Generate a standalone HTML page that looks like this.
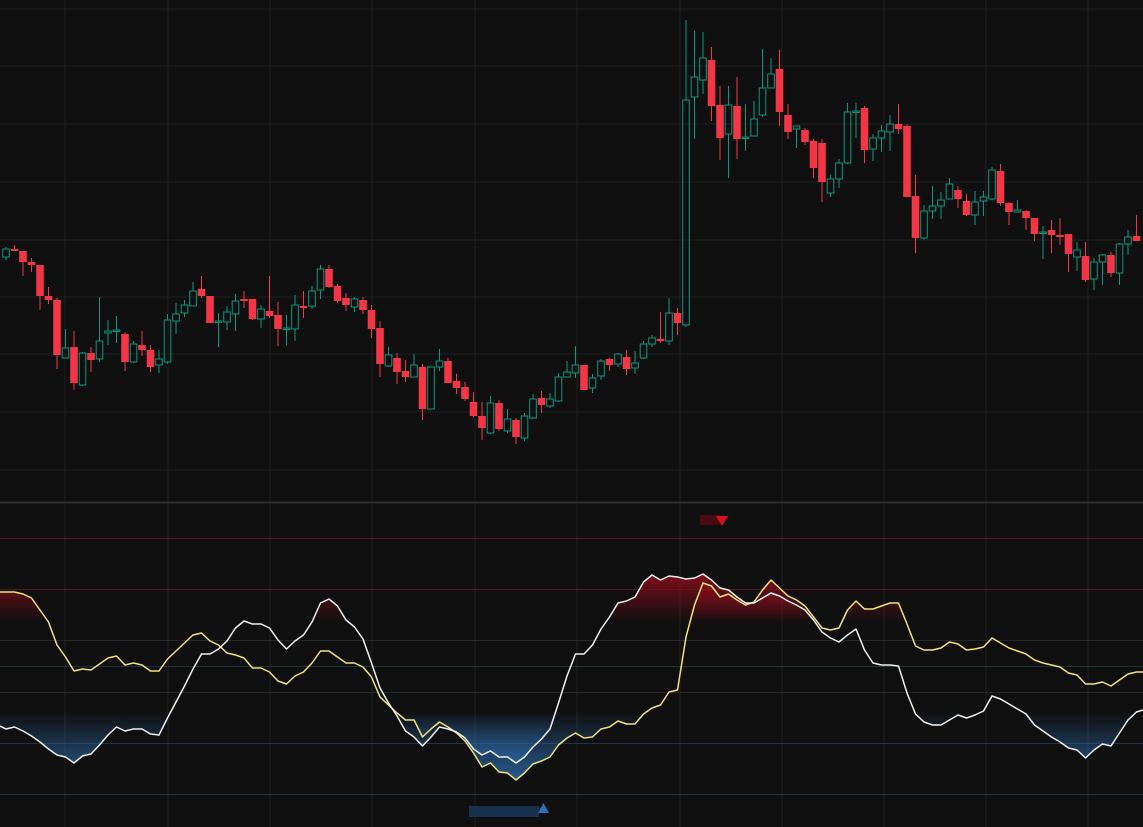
<!DOCTYPE html>
<html><head><meta charset="utf-8"><style>
html,body{margin:0;padding:0;background:#0f0f0f;}
svg{display:block;font-family:"Liberation Sans",sans-serif;}
</style></head><body>
<svg id="chart" width="1143" height="827" viewBox="0 0 1143 827" xmlns="http://www.w3.org/2000/svg">
<defs>
<linearGradient id="redG" gradientUnits="userSpaceOnUse" x1="0" y1="572" x2="0" y2="622"><stop offset="0" stop-color="#8a0c1c" stop-opacity="0.95"/><stop offset="1" stop-color="#8a0c1c" stop-opacity="0"/></linearGradient>
<linearGradient id="blueG" gradientUnits="userSpaceOnUse" x1="0" y1="712" x2="0" y2="782"><stop offset="0" stop-color="#2b66a3" stop-opacity="0"/><stop offset="1" stop-color="#2b66a3" stop-opacity="0.9"/></linearGradient>
</defs>
<rect x="0" y="0" width="1143" height="827" fill="#0f0f0f"/>
<g id="grid"></g>
<g id="candles"></g>
<g id="osc"></g>
<g>
<rect x="700" y="515" width="20" height="10" fill="#4a0a12"/>
<polygon points="716,516 728,516 722,526" fill="#d8101e"/>
</g>
<g>
<rect x="469" y="806" width="70" height="11" fill="#17304d"/>
<polygon points="538,813 549,813 543.5,803" fill="#2d6fb8"/>
</g>
</svg>
<script>
// price values (price units: higher = up)
const opens  = [243,251,249,238,235,204,200,142,153,115,
147,141,167,169,166,138,155,150,135,138,
179,187,194,211,204,179,178,186,201,201,
181,189,185,172,171,194,194,210,231,214,
202,193,200,190,172,134,142,129,123,133,
91,133,139,119,113,98,84,67,97,69,
80,62,82,102,94,99,123,127,135,112,
124,141,136,143,132,142,156,161,159,187,
175,403,420,440,395,366,394,363,364,385,
412,431,385,371,370,359,357,307,321,337,
389,392,351,362,368,376,374,304,262,289,
294,301,310,299,285,299,301,329,297,288,
289,282,268,270,265,266,243,244,221,238,
245,227,256,264];
const closes = [251,249,238,235,204,200,145,152,117,147,
140,159,169,170,138,156,150,133,141,180,
186,195,209,204,177,179,188,199,199,181,
191,184,171,172,195,192,209,231,213,199,
195,201,190,171,136,145,128,123,135,91,
133,139,117,112,101,84,72,97,71,81,
63,84,101,95,101,123,128,135,110,122,
139,135,146,131,137,156,162,159,187,177,
400,423,442,394,362,395,361,363,381,412,
426,388,368,374,358,332,318,321,337,388,
389,350,362,369,376,371,303,262,289,294,
300,316,301,285,298,303,330,297,288,290,
282,266,268,265,263,246,250,220,238,245,
227,256,263,259];
const highs  = [253,255,249,242,235,213,202,171,169,148,
153,203,180,184,168,159,169,155,150,186,
197,200,218,224,204,187,194,206,209,201,
195,224,198,185,205,209,214,235,235,216,
207,203,203,195,179,153,147,140,146,136,
133,151,142,126,118,108,98,104,100,91,
82,87,106,109,107,127,139,154,135,126,
141,142,147,150,149,159,165,188,202,192,
480,469,468,453,414,414,423,396,399,451,
442,450,396,374,372,361,361,325,341,397,
397,394,366,375,385,396,376,325,295,314,
308,322,314,306,309,309,333,336,298,300,
290,282,274,280,282,266,258,258,242,246,
248,257,270,285];
const lows   = [240,249,224,228,190,196,131,142,110,114,
128,138,155,157,129,137,144,128,127,136,
166,183,194,202,177,153,170,169,192,180,
172,182,154,155,159,182,191,201,212,197,
189,188,186,162,123,133,116,118,123,80,
91,129,117,106,99,83,60,66,69,67,
56,59,81,87,92,98,123,122,110,107,
120,129,133,125,126,141,153,157,155,165,
173,361,406,379,340,322,341,349,364,383,
412,374,361,352,355,322,298,303,312,336,
362,337,339,348,349,366,303,247,260,281,
281,301,292,284,275,284,300,294,275,288,
270,259,241,247,255,228,229,218,210,215,
223,215,245,259];
// oscillator values (0 = bottom level line, 256 = top level line)
const fastLine = [65,67,63,58,52,45,39,37,31,38,40,49,59,67,63,65,65,60,59,76,92,108,125,140,140,145,153,166,173,170,170,166,154,145,153,159,172,191,195,188,174,167,155,131,106,91,78,63,57,48,57,67,65,62,56,45,39,43,37,37,31,37,47,55,65,91,118,140,140,149,165,177,191,193,197,212,219,214,218,217,215,216,220,214,206,204,197,191,191,196,201,198,193,189,184,174,162,156,152,159,165,144,131,129,129,128,101,80,72,69,69,74,79,76,79,83,98,95,90,85,80,69,63,57,52,46,44,36,44,50,48,61,74,82];
const slowLine = [202,202,200,196,184,172,149,137,123,125,124,130,136,138,129,131,129,123,123,135,143,151,159,161,153,149,141,139,136,126,126,122,113,110,118,122,131,143,143,137,131,131,127,117,97,89,81,74,74,57,65,72,67,61,53,41,27,31,22,21,14,21,30,33,37,49,56,61,56,57,65,67,73,70,70,80,86,89,102,104,157,189,211,208,197,200,194,189,192,204,214,206,198,194,188,177,166,164,166,184,193,185,185,188,191,191,170,148,144,144,146,152,150,144,145,147,156,151,146,143,140,134,131,129,127,121,119,110,110,112,108,114,120,122];

const N = opens.length;
const xAt = i => 6 + i * 8.5;
const yPrice = p => 500 - p;          // price axis
const yOsc = v => 794 - v;            // oscillator axis
const NS = "http://www.w3.org/2000/svg";
function mk(tag, attrs, parent){const e=document.createElementNS(NS,tag);for(const k in attrs)e.setAttribute(k,attrs[k]);parent.appendChild(e);return e;}

// grid
const grid=document.getElementById('grid');
const vx=[65,168,270,372,475,577,680,782,884,986,1088];
vx.forEach(x=>{
  const l=mk('line',{x1:x,y1:0,x2:x,y2:827,stroke:'#1f1f1f','stroke-width':1},grid);
  
  
});
[9,66,124,182,240,297,354,412,470].forEach(y=>{
  const l=mk('line',{x1:0,y1:y,x2:1143,y2:y,stroke:'#1f1f1f','stroke-width':1},grid);
  
  
});
const div=mk('rect',{x:0,y:501.5,width:1143,height:2,fill:'#2e2e2e'},grid);


const levels=[[256,'#4a1a20'],[205,'#4a1a20'],[154,'#262626'],[128,'#1c3438'],[102,'#262626'],[51,'#1c3447'],[0,'#1c3447']];
levels.forEach(([v,c])=>{
  const l=mk('line',{x1:0,y1:yOsc(v)+0.5,x2:1143,y2:yOsc(v)+0.5,stroke:c,'stroke-width':1},grid);
  
  
});

// candles
const cg=document.getElementById('candles');
for(let i=0;i<N;i++){
  const x=xAt(i), up=closes[i]>=opens[i];
  const col=up?'#089981':'#f23645';
  const g=mk('g',{},cg);
  
  
  const top=yPrice(Math.max(opens[i],closes[i])), bot=yPrice(Math.min(opens[i],closes[i]));
  mk('line',{x1:x,y1:yPrice(highs[i]),x2:x,y2:top,stroke:col,'stroke-width':1},g);
  mk('line',{x1:x,y1:bot,x2:x,y2:yPrice(lows[i]),stroke:col,'stroke-width':1},g);
  const h=Math.max(bot-top,1.5);
  if(up) mk('rect',{x:x-3.3,y:top,width:6.6,height:h,fill:'none',stroke:col,'stroke-width':1},g);
  else mk('rect',{x:x-3.8,y:top,width:7.6,height:h,fill:col},g);
}

// oscillator
const og=document.getElementById('osc');
function pts(arr){return arr.map((v,i)=>xAt(i).toFixed(1)+','+yOsc(v).toFixed(1));}
[slowLine,fastLine].forEach(arr=>{
  const p=pts(arr);
  const f1=mk('polygon',{points:'0,827 0,'+yOsc(arr[0])+' '+p.join(' ')+' 1143,'+yOsc(arr[arr.length-1])+' 1143,827',fill:'url(#redG)'},og);
  
  
  const f2=mk('polygon',{points:'0,503 0,'+yOsc(arr[0])+' '+p.join(' ')+' 1143,'+yOsc(arr[arr.length-1])+' 1143,503',fill:'url(#blueG)'},og);
  
  
});
const sl=mk('polyline',{points:'0,'+yOsc(slowLine[0])+' '+pts(slowLine).join(' ')+' 1143,'+yOsc(slowLine[N-1]),fill:'none',stroke:'#f3e27a','stroke-width':1.5,'stroke-linejoin':'round'},og);


const fl=mk('polyline',{points:'0,'+yOsc(fastLine[0]+3)+' '+pts(fastLine).join(' ')+' 1143,'+yOsc(fastLine[N-1]+2),fill:'none',stroke:'#f0f0f0','stroke-width':1.5,'stroke-linejoin':'round'},og);


</script>
</body></html>
